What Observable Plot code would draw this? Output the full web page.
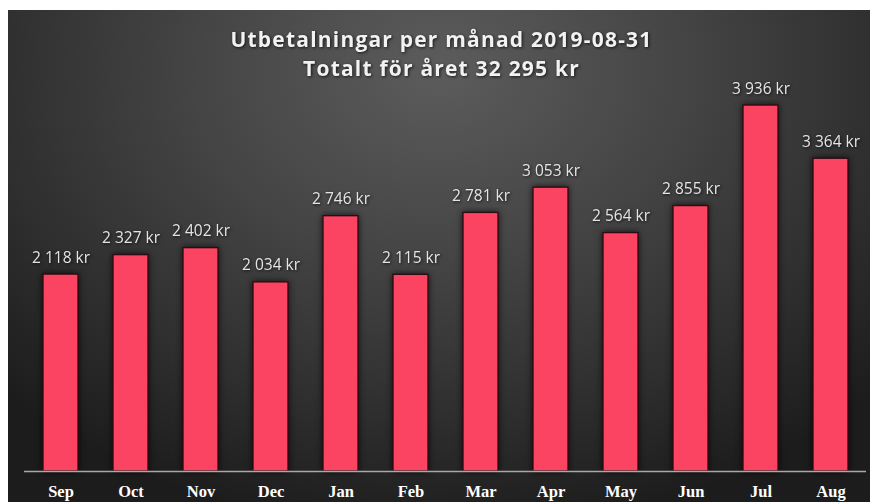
<!DOCTYPE html>
<html>
<head>
<meta charset="utf-8">
<script src="https://cdn.jsdelivr.net/npm/d3@7"></script>
<script src="https://cdn.jsdelivr.net/npm/@observablehq/plot@0.6"></script>
<style>
  html, body { margin: 0; padding: 0; background: #ffffff; }
  #wrap { position: relative; width: 874px; height: 502px; overflow: hidden; }
  #bg { position: absolute; left: 8px; top: 10px; width: 862px; height: 492px;
        background: radial-gradient(ellipse 70% 95% at 50% 12%, #5c5c5c 0%, #454545 40%, #2e2e2e 75%, #1c1c1c 100%); }
  #chart { position: absolute; left: 0; top: 0; }
  #chart svg { background: transparent !important; overflow: visible; }
  #chart g[aria-label="bar"] { filter: drop-shadow(0px 0px 3px rgba(0,0,0,0.75)); }
  #chart g[aria-label="text"] { filter: drop-shadow(1px 1px 1.5px rgba(0,0,0,0.7)); }
  #chart g[aria-label="text"]:nth-last-of-type(-n+2) { letter-spacing: 1.2px; }
</style>
</head>
<body>
<div id="wrap"><div id="bg"></div><div id="chart"></div></div>
<script>
const months = ["Sep","Oct","Nov","Dec","Jan","Feb","Mar","Apr","May","Jun","Jul","Aug"];
const values = [2118, 2327, 2402, 2034, 2746, 2115, 2781, 3053, 2564, 2855, 3936, 3364];
const titleLines = ["Utbetalningar per månad 2019-08-31", "Totalt för året 32 295 kr"];

const data = months.map((m, i) => ({month: m, value: values[i]}));
const fmt = v => d3.format(",")(v).replace(/,/g, "\u00a0") + " kr";

const plot = Plot.plot({
  width: 874,
  height: 502,
  marginLeft: 24,
  marginRight: 8,
  marginTop: 80.5,
  marginBottom: 31,
  style: {background: "transparent", overflow: "visible"},
  x: {domain: months, paddingInner: 0.5, paddingOuter: 0.25, label: null},
  y: {domain: [0, 4200], axis: null},
  marks: [
    Plot.barY(data, {x: "month", y: "value", fill: "#fb4461", stroke: "#2e0a12", strokeWidth: 1.3}),
    Plot.ruleY([0], {stroke: "#a8a8a8", strokeWidth: 1.5}),
    Plot.text(data, {x: "month", y: "value", text: d => fmt(d.value), dy: -12, lineAnchor: "bottom",
      fill: "#e4e4e4", fontSize: 15.5, fontFamily: "Open Sans"}),
    Plot.axisX({tickSize: 0, tickPadding: 14, fontSize: 16.5, fontFamily: "Liberation Serif",
      fontWeight: "bold", fill: "#ffffff", label: null}),
    Plot.text([titleLines[0]], {frameAnchor: "top", dx: -4, dy: -34.5, lineAnchor: "bottom",
      fill: "#f2f2f2", fontSize: 21, fontWeight: "bold", fontFamily: "Open Sans"}),
    Plot.text([titleLines[1]], {frameAnchor: "top", dx: -4, dy: -5.5, lineAnchor: "bottom",
      fill: "#f2f2f2", fontSize: 21, fontWeight: "bold", fontFamily: "Open Sans"})
  ]
});
document.getElementById("chart").appendChild(plot);
</script>
</body>
</html>
